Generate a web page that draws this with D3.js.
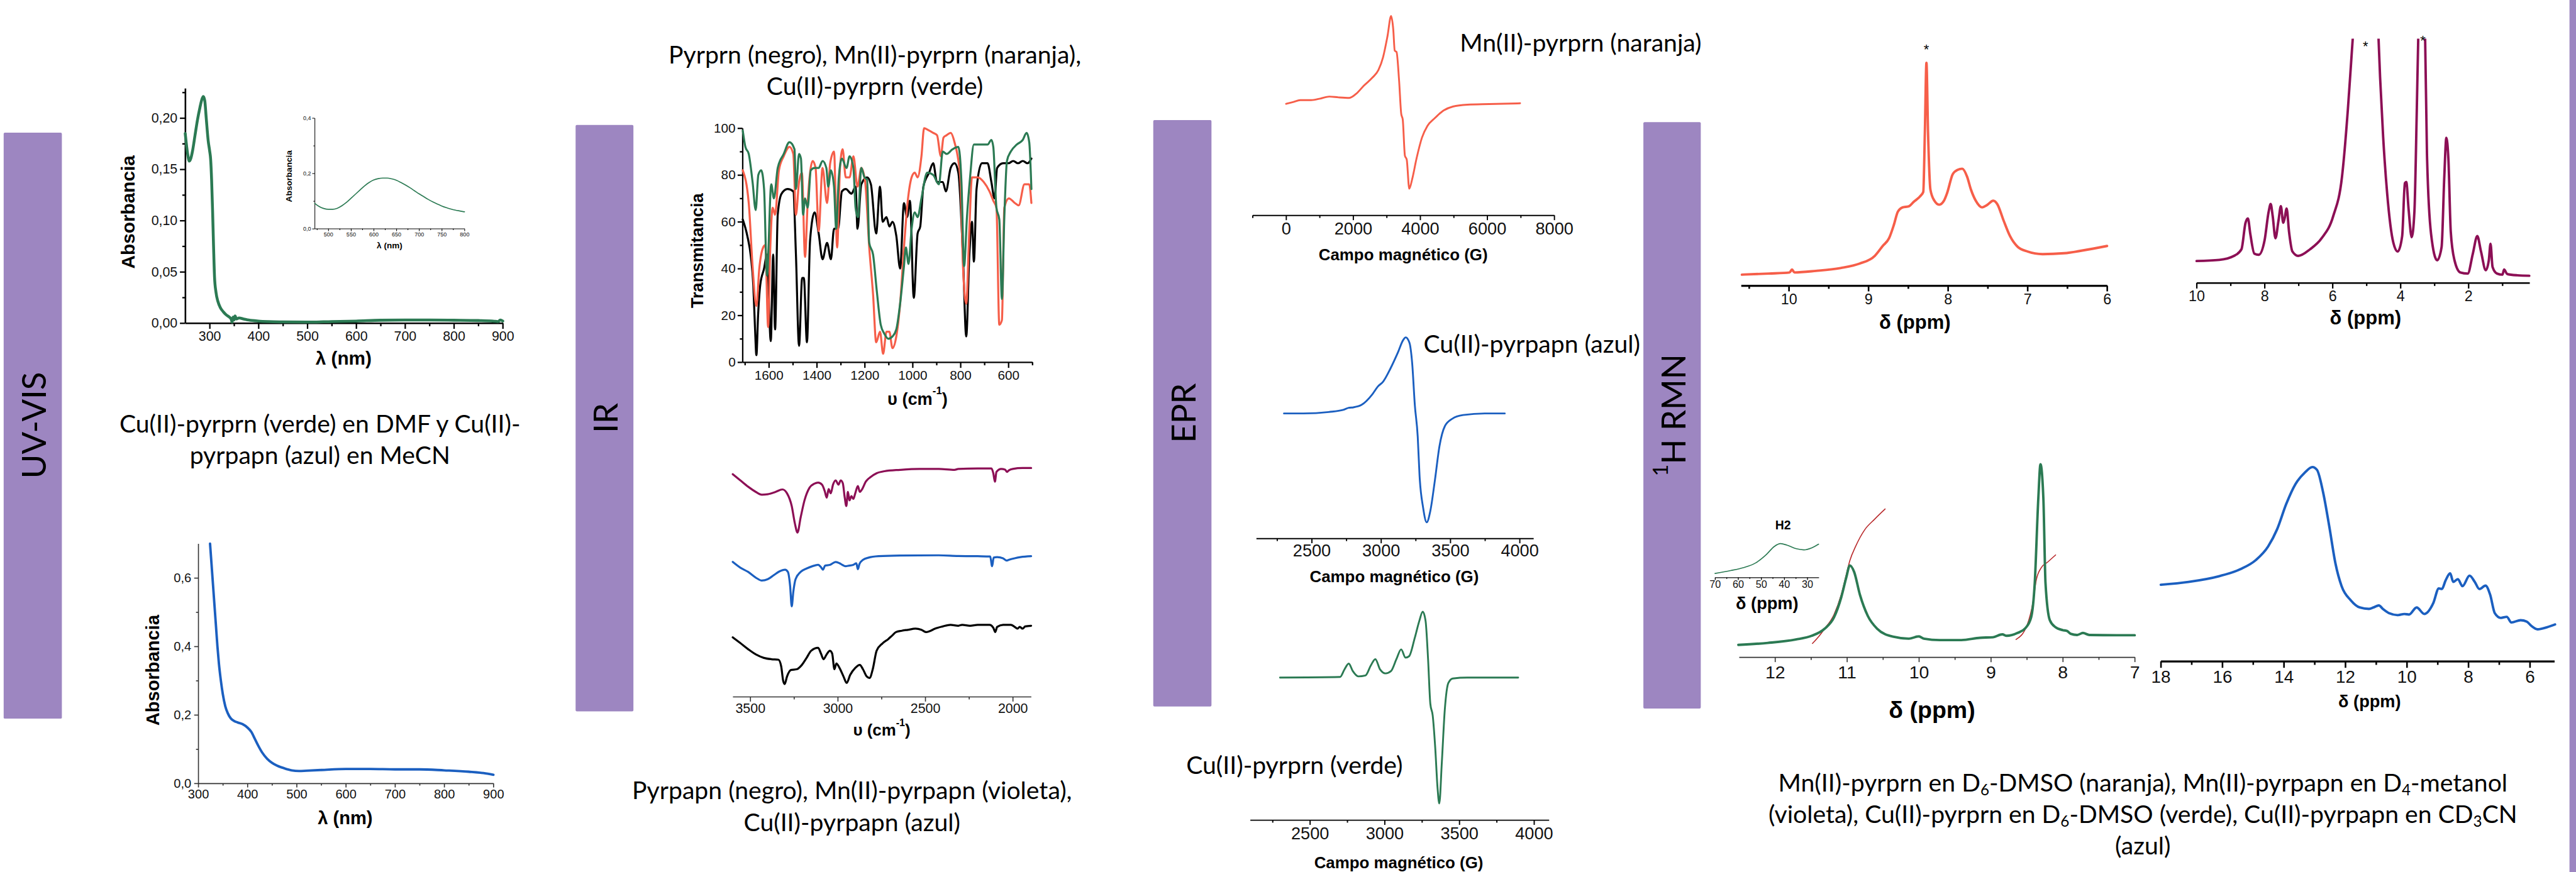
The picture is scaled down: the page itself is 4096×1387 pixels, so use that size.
<!DOCTYPE html>
<html>
<head>
<meta charset="utf-8">
<title>UV-VIS, IR, EPR, 1H RMN</title>
<script src="https://cdn.jsdelivr.net/npm/d3@7"></script>
<style>
  body { margin: 0; background: #fff; }
  svg { display: block; }
</style>
</head>
<body>
<script>
// ---- datos ----
// UV-VIS (nm, absorbancia)
var uvCuPrn = [[250,0.185],[253,0.172],[256,0.162],[258,0.158],[261,0.16],[265,0.168],[270,0.183],[275,0.198],[280,0.21],[284,0.218],[287,0.221],[290,0.217],[293,0.2],[297,0.178],[300,0.168],[302,0.16],[304,0.14],[306,0.11],[308,0.075],[310,0.045],[313,0.03],[317,0.021],[322,0.015],[328,0.011],[334,0.008],[340,0.006],[344,0.004],[346,0.001],[348,0.006],[350,0.003],[352,0.007],[355,0.004],[360,0.005],[370,0.004],[380,0.003],[400,0.002],[420,0.0015],[450,0.0012],[500,0.001],[550,0.0015],[600,0.002],[650,0.0028],[700,0.003],[750,0.003],[800,0.0028],[850,0.0025],[880,0.002],[890,0.0015],[895,0.003],[900,0.002]];
var uvCuPrnVis = [[470,0.092],[480,0.08],[490,0.073],[500,0.07],[510,0.07],[520,0.074],[530,0.083],[540,0.095],[550,0.11],[560,0.125],[570,0.14],[580,0.155],[590,0.167],[600,0.176],[610,0.181],[620,0.183],[630,0.183],[640,0.18],[650,0.175],[660,0.167],[670,0.158],[680,0.148],[690,0.137],[700,0.126],[710,0.116],[720,0.106],[730,0.097],[740,0.089],[750,0.082],[760,0.076],[770,0.071],[780,0.067],[790,0.064],[800,0.061]];
var uvCuPapn = [[324,0.70],[327,0.64],[330,0.58],[333,0.52],[336,0.46],[339,0.40],[342,0.35],[346,0.30],[350,0.26],[355,0.225],[360,0.205],[366,0.19],[372,0.183],[380,0.178],[390,0.173],[400,0.163],[408,0.15],[415,0.13],[422,0.11],[430,0.09],[440,0.072],[450,0.06],[460,0.052],[475,0.044],[490,0.038],[505,0.036],[520,0.037],[550,0.039],[600,0.042],[650,0.042],[700,0.041],[750,0.041],[800,0.038],[850,0.034],[880,0.03],[900,0.025]];

// IR 1710-500 cm-1 (cm-1, %T)
var irPrn = [[1709,61],[1690,54],[1675,45],[1665,33],[1658,15],[1652,3],[1645,20],[1636,33],[1620,40],[1608,46],[1592,9],[1582,46],[1574,14],[1563,63],[1547,72],[1522,74],[1498,73],[1487,46],[1474,7],[1461,36],[1454,36],[1441,8.5],[1428,52],[1409,64],[1392,55],[1376,44],[1357,51],[1341,44],[1328,57],[1311,57],[1295,73],[1279,74],[1255,72],[1238,75],[1230,57],[1214,76],[1190,79],[1174,76],[1152,55],[1136,75],[1125,60],[1109,62],[1097,58],[1084,60],[1068,54],[1052,40],[1036,68],[1023,62],[1011,69],[995,27.5],[979,55],[968,58],[955,75],[931,81],[914,85],[898,77],[874,77],[861,73],[841,83],[825,85],[809,81],[790,46],[776,11],[763,46],[752,60],[744,43],[733,74],[711,85],[687,85],[671,77],[658,70],[647,83],[622,85],[600,85],[580,86],[560,85],[540,86],[520,85],[504,87]];
var irMnPrn = [[1709,82],[1684,68],[1668,41],[1652,24],[1640,40],[1624,49],[1615,50],[1603,15],[1595,46],[1584,66],[1574,63],[1558,82],[1538,88],[1514,92],[1498,89],[1487,63],[1474,77],[1462,81],[1449,45],[1438,68],[1417,86],[1405,83],[1392,56],[1376,83],[1357,68],[1344,85],[1328,90],[1315,49],[1303,83],[1292,91],[1279,79],[1263,79],[1247,88],[1230,75],[1214,83],[1198,77],[1181,49],[1165,29],[1152,8.5],[1136,13],[1123,3.6],[1109,13],[1097,13],[1084,6],[1068,11],[1052,25],[1036,49],[1020,69],[1004,79],[991,81],[979,79],[963,88],[952,100],[931,99],[914,98],[898,97],[882,88],[871,96],[858,97],[841,98],[825,94],[801,79],[790,42],[776,25],[763,57],[752,79],[728,79],[703,77],[679,73],[663,69],[650,66],[638,16],[627,18],[617,66],[598,70],[573,68],[557,67],[533,76],[513,76],[504,68]];
var irCuPrn = [[1709,99],[1698,92],[1684,89],[1668,77],[1655,65],[1644,80],[1632,82],[1620,74],[1608,37],[1590,76],[1579,70],[1563,83],[1538,89],[1514,94],[1493,91],[1487,74],[1474,89],[1466,87],[1457,63],[1449,70],[1438,66],[1425,82],[1409,83],[1392,83],[1376,86],[1360,83],[1352,75],[1341,82],[1328,75],[1319,57],[1308,79],[1295,87],[1276,83],[1263,88],[1247,83],[1238,66],[1228,62],[1214,83],[1201,79],[1190,78],[1181,51],[1165,46],[1149,30],[1133,16],[1117,12],[1101,10],[1084,11],[1068,14],[1052,25],[1036,41],[1028,49],[1017,42],[1004,57],[991,64],[979,62],[963,70],[939,81],[914,80],[890,76],[874,90],[858,89],[833,91],[809,92],[796,77],[785,41],[773,62],[760,79],[744,93],[711,93],[687,93],[671,95],[663,92],[650,66],[638,61],[627,27],[617,62],[606,86],[590,90],[565,93],[540,95],[524,98],[513,94],[504,74]];

// IR 3600-1895 cm-1 (cm-1, u.a. desplazadas)
var irMnPapn = [[3600,95.5],[3557,92.8],[3512,90],[3468,87.7],[3434,86.5],[3400,86.7],[3356,87.7],[3316,88.8],[3290,87.1],[3263,81.5],[3245,73.9],[3230,69.9],[3212,76.5],[3190,84],[3161,89.6],[3134,91.3],[3112,91.8],[3090,90.9],[3074,88],[3063,85.2],[3052,89],[3040,87.1],[3027,90.9],[3012,92.8],[2996,90.9],[2983,92.8],[2971,91.5],[2960,85.2],[2951,81.5],[2942,87.7],[2933,84],[2922,85.9],[2911,84.6],[2900,87.1],[2885,90.3],[2874,87.7],[2860,89],[2840,92.2],[2811,94.3],[2778,95.9],[2733,96.8],[2644,97.4],[2533,97.8],[2422,97.8],[2333,97.4],[2311,97.8],[2200,98],[2122,98],[2111,95.9],[2102,92.2],[2093,96.5],[2066,97.8],[2044,97.5],[2033,96.5],[2022,97.2],[2000,97.8],[1944,98.2],[1895,98.2]];
var irCuPapn = [[3600,57],[3557,54.5],[3512,52.6],[3468,50.1],[3434,48.8],[3400,49.4],[3367,51.1],[3334,52.8],[3301,53.6],[3285,52.6],[3272,46.3],[3263,37.5],[3254,43.8],[3241,49.4],[3212,52.6],[3178,54.1],[3145,55.1],[3112,55.7],[3094,54.5],[3085,53.6],[3072,55.4],[3045,55.7],[3012,57],[2989,56.4],[2974,55.7],[2956,55.1],[2934,55.4],[2912,55.7],[2894,56.4],[2885,53.8],[2876,56.1],[2856,57.9],[2823,58.9],[2767,59.5],[2645,59.8],[2423,59.9],[2312,59.6],[2200,59.5],[2129,59.4],[2118,55.1],[2109,58.9],[2089,59.1],[2056,58.6],[2034,57.6],[2023,57.9],[1989,58.6],[1956,59.1],[1895,59.5]];
var irPapn = [[3600,23.9],[3557,21.4],[3512,18.7],[3468,16.4],[3423,14.9],[3379,14.3],[3339,14.1],[3323,11.1],[3312,4.9],[3303,3.4],[3290,6.7],[3267,9.6],[3234,9.9],[3205,11.8],[3178,14.9],[3152,18],[3112,19.3],[3096,16.8],[3081,14.3],[3065,16.2],[3045,18],[3032,16.8],[3019,9.9],[3008,12.4],[2990,10.5],[2967,6.7],[2949,3.9],[2929,7.4],[2900,10.5],[2874,11.8],[2856,9.9],[2834,6.7],[2818,6.1],[2800,9.9],[2778,18],[2745,21.2],[2712,23.1],[2689,24.7],[2667,26.2],[2634,26.8],[2600,27.2],[2556,27.7],[2522,27.2],[2496,26.2],[2478,26.5],[2445,27.7],[2400,28.7],[2356,29.4],[2311,29],[2289,29.4],[2244,29],[2200,29.4],[2133,29.4],[2111,28.1],[2100,26.2],[2089,28.5],[2055,29.4],[2011,29.4],[1989,28.5],[1973,27.7],[1960,28.5],[1944,27.7],[1929,28.7],[1895,29]];

// EPR (G, u.a.)
var eprMnPrn = [[0,-1],[206,1],[423,3.2],[748,3.2],[1019,5],[1290,7.3],[1561,6.4],[1886,5.8],[2103,10.9],[2320,19.8],[2569,28.7],[2754,37.6],[2894,52.4],[3024,76.1],[3133,99.3],[3198,83.6],[3241,59.8],[3295,58.3],[3371,25.7],[3436,-12.8],[3480,-18.8],[3545,-60.3],[3599,-64.7],[3675,-98],[3762,-87],[3892,-63.4],[4054,-39.6],[4217,-26.2],[4434,-17.4],[4705,-8.5],[4976,-4.1],[5409,-2],[6060,-1.3],[6981,-0.4]];
var eprCuPapn = [[2300,0],[2440,0],[2623,1.9],[2728,4.7],[2767,7.4],[2800,8],[2859,11.2],[2937,25],[2977,35.3],[3016,42],[3068,59],[3121,79.7],[3160,96.5],[3178,100],[3205,93],[3225,65.8],[3244,11.2],[3265,-30.5],[3278,-81.3],[3304,-124],[3330,-143],[3356,-128],[3388,-89],[3422,-42.8],[3461,-16.6],[3514,-7],[3592,-2.1],[3749,0],[3893,0]];
var eprCuPrn = [[2300,0],[2702,0.9],[2731,12.2],[2760,21.2],[2787,9.9],[2824,1.8],[2872,3.2],[2909,18.9],[2938,27.9],[2970,12.2],[3006,6.3],[3043,9.9],[3079,27.9],[3111,42.8],[3140,30.2],[3164,32.4],[3201,59.4],[3233,86.4],[3255,100],[3274,86.4],[3291,27.9],[3306,-39.6],[3322,-57.6],[3339,-107],[3354,-166],[3366,-191],[3383,-129],[3403,-48.6],[3427,-8.1],[3456,-1.4],[3553,0],[3894,0]];

// 1H RMN (ppm, u.a.)
var nmrMnPrn = [[10.59,5.5],[10.25,6],[9.99,6.5],[9.96,7.8],[9.93,6.5],[9.66,7.2],[9.35,8.5],[9.11,10.5],[8.92,14],[8.82,18.5],[8.74,22],[8.68,28],[8.63,34],[8.57,36],[8.49,36.5],[8.43,38.5],[8.35,41],[8.31,43],[8.29,70],[8.27,101.5],[8.25,70],[8.22,44],[8.17,39],[8.11,37.2],[8.05,39],[8.01,42.5],[7.94,51],[7.88,53],[7.82,53.5],[7.76,50],[7.71,44],[7.65,39],[7.57,36],[7.51,37],[7.43,39],[7.38,37.5],[7.30,30],[7.22,23],[7.12,18],[7.00,16],[6.81,14.8],[6.54,15.2],[6.30,16.5],[6.00,18.5]];
var nmrMnPapn = [[10,11.7],[9.33,12.2],[8.9,14],[8.68,17],[8.56,29],[8.49,31],[8.42,24],[8.3,15],[8.17,14.5],[8.0,21],[7.88,34],[7.82,37.5],[7.76,32],[7.68,22],[7.59,30],[7.52,36.5],[7.45,29],[7.41,31],[7.35,35.5],[7.28,25],[7.18,16],[7.01,14],[6.66,17],[6.32,22],[5.98,32],[5.72,50],[5.55,80],[5.46,100],[5.38,118],[5.2,150],[5.0,170],[4.8,150],[4.66,118],[4.6,95],[4.51,68],[4.39,42],[4.21,20],[4.08,16],[3.95,23],[3.87,47],[3.83,47.5],[3.76,35],[3.67,22.5],[3.59,34],[3.52,80],[3.47,118],[3.38,150],[3.28,118],[3.22,60],[3.10,24],[2.92,12],[2.79,18],[2.71,50],[2.65,67.5],[2.59,58],[2.52,25],[2.41,12],[2.24,6.5],[2.02,6],[1.87,15],[1.74,23],[1.63,16],[1.49,7.5],[1.40,12],[1.35,19.5],[1.29,9],[1.16,6],[1.0,5.5],[0.95,7.8],[0.86,5.8],[0.56,5.2],[0.21,5]];
var nmrCuPrn = [[12.51,6.6],[12.1,8],[11.71,10.4],[11.49,13],[11.31,18],[11.18,26],[11.08,40],[11.01,54],[10.96,62.6],[10.9,58],[10.82,42],[10.71,27],[10.58,18],[10.36,12.4],[10.14,11],[10.0,12.6],[9.93,11],[9.71,10],[9.41,10],[9.15,11.6],[8.97,12],[8.84,14],[8.78,13],[8.63,15],[8.52,18.4],[8.44,26],[8.39,50],[8.34,110],[8.31,134],[8.27,110],[8.24,50],[8.18,24],[8.1,19],[8.0,17],[7.94,16.4],[7.89,14.4],[7.8,13.6],[7.72,15],[7.63,13.6],[7.25,13.4],[7.0,13.4]];
var nmrCuPrnInt1 = [[11.48,7.6],[11.40,12],[11.31,18],[11.18,28],[11.08,42],[11.01,56],[10.96,66],[10.88,76],[10.75,88],[10.62,95],[10.47,102.4]];
var nmrCuPrnInt2 = [[8.65,10.4],[8.50,20],[8.41,38],[8.37,52],[8.30,61],[8.21,65],[8.10,70]];
var nmrCuPrnH2 = [[70,15],[63.2,25],[57.8,35],[52.4,52],[47.7,82],[44.3,110],[41.6,120],[38.9,115],[34.8,102],[31.5,98],[28.1,105],[25.1,118]];
var nmrCuPapn = [[18,49],[17.1,51],[16.11,55],[15.41,60],[14.91,66.4],[14.51,76],[14.22,88],[13.92,106],[13.62,120],[13.32,128],[13.07,132],[12.92,130],[12.72,114],[12.52,90],[12.32,64],[12.12,48],[11.82,38],[11.53,33],[11.23,32],[11.08,33],[10.91,34.4],[10.78,32],[10.58,29],[10.28,27.6],[10.08,28.4],[9.93,28],[9.68,33],[9.43,28.4],[9.14,36],[8.96,46.4],[8.86,46],[8.74,52],[8.59,57],[8.49,51],[8.34,53],[8.19,48],[7.96,55.4],[7.79,51],[7.64,46],[7.44,48.4],[7.29,42],[7.14,29],[6.94,25.6],[6.75,26.4],[6.6,22.4],[6.3,24],[6.1,23],[5.95,20],[5.75,17.6],[5.45,19],[5.18,21]];

// ---- lienzo ----
var W = 4096, H = 1387;
var k = W / 6328;   // se dibuja en coordenadas de la figura original
var AX = "'Liberation Sans', Arial, sans-serif";
var CAP = "Lato, 'Noto Sans', sans-serif";
var cGreen = "#2b7a53", cOrange = "#f65e49", cBlue = "#1b5fc0", cViolet = "#8c0f55", cRed = "#b8282a", cBar = "#9d86c1";

var svg = d3.select("body").append("svg").attr("width", W).attr("height", H);
var root = svg.append("g").attr("transform", "scale(" + k + ")");

// tamaño de los rótulos (Calibri en el original): ajustado por ancho
var probe = root.append("text").attr("font-family", CAP).attr("font-size", 100).text("Mn(II)-pyrprn (naranja)");
var capFs = 100 * 594 / probe.node().getComputedTextLength();
probe.text("UV-VIS");
var barFs = 100 * 262 / probe.node().getComputedTextLength();
probe.remove();

function comma(f) { return function(d) { return d3.format(f)(d).replace(".", ","); }; }

function axis(o) {
  var left = o.orient == "left";
  var mk = left ? d3.axisLeft : d3.axisBottom;
  var tr = left ? "translate(" + o.at + ",0)" : "translate(0," + o.at + ")";
  var col = o.color || "#000";
  var g = root.append("g").attr("transform", tr)
    .call(mk(o.scale).tickValues(o.major).tickSize(o.tick).tickSizeOuter(0)
      .tickPadding(o.pad).tickFormat(o.fmt || d3.format("d")));
  g.attr("font-family", AX).attr("font-size", o.fs);
  g.select(".domain").attr("stroke", col).attr("stroke-width", o.sw);
  g.selectAll(".tick line").attr("stroke", col).attr("stroke-width", o.tsw || o.sw);
  g.selectAll(".tick text").attr("fill", "#111");
  if (o.minor) {
    var m = root.append("g").attr("transform", tr)
      .call(mk(o.scale).tickValues(o.minor).tickSize(o.tick * 0.55).tickSizeOuter(0).tickFormat(""));
    m.select(".domain").remove();
    m.selectAll(".tick line").attr("stroke", col).attr("stroke-width", o.tsw || o.sw);
  }
}

function trace(data, x, y, color, sw, clip) {
  var pts = data.slice().sort(function(a, b) { return x(a[0]) - x(b[0]); });
  var p = root.append("path").datum(pts)
    .attr("d", d3.line().x(function(d) { return x(d[0]); }).y(function(d) { return y(d[1]); }).curve(d3.curveMonotoneX))
    .attr("fill", "none").attr("stroke", color).attr("stroke-width", sw)
    .attr("stroke-linejoin", "round").attr("stroke-linecap", "round");
  if (clip) p.attr("clip-path", "url(#" + clip + ")");
}

function txt(x, y, s, o) {
  o = o || {};
  var t = root.append("text").attr("x", x).attr("y", y)
    .attr("text-anchor", o.anchor || "middle").attr("dominant-baseline", "central")
    .attr("font-family", o.family || AX).attr("font-size", o.fs || 40)
    .attr("font-weight", o.bold ? "bold" : "normal").attr("fill", "#000");
  if (o.rot) t.attr("transform", "rotate(-90," + x + "," + y + ")");
  if (typeof s == "string") { t.text(s); return t; }
  // partes con sub/superíndice: [texto, desplazamiento]
  var fs = o.fs || 40, prev = 0;
  s.forEach(function(part) {
    var off = part[1] || 0;
    var sp = t.append("tspan").attr("dy", (off - prev) * fs).text(part[0]);
    if (off) sp.attr("font-size", fs * 0.62);
    prev = off;
  });
  return t;
}

// ---- barras laterales ----
var bars = [
  {x0: 9, x1: 152, y0: 326, y1: 1766, cy: 1045, label: [["UV-VIS"]]},
  {x0: 1414, x1: 1556, y0: 307, y1: 1748, cy: 1027, label: [["IR"]]},
  {x0: 2833, x1: 2976, y0: 295, y1: 1736, cy: 1015, label: [["EPR"]]},
  {x0: 4037, x1: 4178, y0: 300, y1: 1741, cy: 1020, label: [["1", -0.38], ["H RMN", 0]]}
];
bars.forEach(function(b) {
  root.append("rect").attr("x", b.x0).attr("y", b.y0).attr("width", b.x1 - b.x0).attr("height", b.y1 - b.y0)
    .attr("rx", 3).attr("fill", cBar);
  txt((b.x0 + b.x1) / 2, b.cy, b.label, {family: CAP, fs: barFs, rot: true});
});
root.append("rect").attr("x", 6312).attr("y", 0).attr("width", 16).attr("height", 2143).attr("fill", cBar);

// ---- UV-VIS: Cu(II)-pyrprn ----
var ux = d3.scaleLinear().domain([250, 900]).range([455, 1235]);
var uy = d3.scaleLinear().domain([0, 0.229]).range([794, 217]);
axis({orient: "left", scale: uy, at: 455, major: [0, .05, .1, .15, .2], minor: [.025, .075, .125, .175, .225], tick: 13, pad: 6, fs: 33, sw: 4, tsw: 3.5, fmt: comma(".2f")});
axis({orient: "bottom", scale: ux, at: 794, major: d3.range(300, 901, 100), minor: d3.range(350, 900, 100), tick: 14, pad: 6, fs: 33, sw: 4, tsw: 3.5});
trace(uvCuPrn, ux, uy, cGreen, 7);
txt(315, 521, "Absorbancia", {fs: 46, bold: true, rot: true});
txt(844, 880, "λ (nm)", {fs: 46, bold: true});

var ix = d3.scaleLinear().domain([470, 800]).range([773, 1141]);
var iy = d3.scaleLinear().domain([0, 0.4]).range([562, 290]);
axis({orient: "left", scale: iy, at: 773, major: [0, .2, .4], minor: [.1, .3], tick: 6, pad: 3, fs: 14, sw: 1.6, fmt: comma(".1f")});
axis({orient: "bottom", scale: ix, at: 562, major: d3.range(500, 801, 50), minor: d3.range(475, 800, 50), tick: 6, pad: 3, fs: 14, sw: 1.6});
trace(uvCuPrnVis, ix, iy, cGreen, 2.6);
txt(710, 433, "Absorbancia", {fs: 21, bold: true, rot: true});
txt(957, 603, "λ (nm)", {fs: 21, bold: true});

txt(786, 1039, "Cu(II)-pyrprn (verde) en DMF y Cu(II)-", {family: CAP, fs: capFs});
txt(786, 1116, "pyrpapn (azul) en MeCN", {family: CAP, fs: capFs});

// ---- UV-VIS: Cu(II)-pyrpapn ----
var bx = d3.scaleLinear().domain([300, 900]).range([487, 1212]);
var by = d3.scaleLinear().domain([0, 0.7]).range([1925, 1336]);
axis({orient: "left", scale: by, at: 487, major: [0, .2, .4, .6], minor: [.1, .3, .5], tick: 10, pad: 7, fs: 31, sw: 2.5, color: "#333", fmt: comma(".1f")});
axis({orient: "bottom", scale: bx, at: 1925, major: d3.range(300, 901, 100), minor: d3.range(350, 900, 100), tick: 10, pad: 5, fs: 31, sw: 2.5, color: "#333"});
trace(uvCuPapn, bx, by, cBlue, 6);
txt(375, 1647, "Absorbancia", {fs: 45, bold: true, rot: true});
txt(848, 2010, "λ (nm)", {fs: 45, bold: true});

// ---- IR: pyrprn ----
var rx = d3.scaleLinear().domain([1710, 500]).range([1824, 2536]);
var ry = d3.scaleLinear().domain([0, 100]).range([890, 315]);
axis({orient: "left", scale: ry, at: 1824, major: d3.range(0, 101, 20), minor: d3.range(10, 100, 20), tick: 12, pad: 5, fs: 32, sw: 3.5});
axis({orient: "bottom", scale: rx, at: 890, major: d3.range(1600, 599, -200), minor: d3.range(1700, 499, -200), tick: 14, pad: 6, fs: 32, sw: 3.5});
trace(irPrn, rx, ry, "#000", 5);
trace(irMnPrn, rx, ry, cOrange, 5);
trace(irCuPrn, rx, ry, cGreen, 5);
txt(1712, 616, "Transmitancia", {fs: 42, bold: true, rot: true});
txt(2254, 979, [["υ (cm", 0], ["-1", -0.45], [")", 0]], {fs: 42, bold: true});
txt(2149, 132, "Pyrprn (negro), Mn(II)-pyrprn (naranja),", {family: CAP, fs: capFs});
txt(2149, 210, "Cu(II)-pyrprn (verde)", {family: CAP, fs: capFs});

// ---- IR: pyrpapn ----
var qx = d3.scaleLinear().domain([3600, 1895]).range([1800, 2533]);
var qy = d3.scaleLinear().domain([0, 100]).range([1700, 1140]);
axis({orient: "bottom", scale: qx, at: 1712, major: [3500, 3000, 2500, 2000], minor: [3250, 2750, 2250], tick: 12, pad: 4, fs: 33, sw: 2.5, color: "#333"});
trace(irMnPapn, qx, qy, cViolet, 5);
trace(irCuPapn, qx, qy, cBlue, 5);
trace(irPapn, qx, qy, "#000", 5);
txt(2166, 1793, [["υ (cm", 0], ["-1", -0.45], [")", 0]], {fs: 40, bold: true});
txt(2093, 1940, "Pyrpapn (negro), Mn(II)-pyrpapn (violeta),", {family: CAP, fs: capFs});
txt(2093, 2018, "Cu(II)-pyrpapn (azul)", {family: CAP, fs: capFs});

// ---- EPR ----
var ex1 = d3.scaleLinear().domain([-1000, 8000]).range([3077, 3818]);
var ey1 = d3.scaleLinear().domain([0, 100]).range([253, 38]);
axis({orient: "bottom", scale: ex1, at: 529, major: d3.range(0, 8001, 2000), minor: d3.range(-1000, 8000, 2000), tick: 12, pad: 6, fs: 42, sw: 3});
trace(eprMnPrn, ex1, ey1, cOrange, 4.5);
txt(3447, 625, "Campo magnético (G)", {fs: 40, bold: true});
txt(3586, 102, "Mn(II)-pyrprn (naranja)", {family: CAP, fs: capFs, anchor: "start"});

var ex2 = d3.scaleLinear().domain([2100, 4100]).range([3086, 3767]);
var ey2 = d3.scaleLinear().domain([0, 100]).range([1016, 829]);
axis({orient: "bottom", scale: ex2, at: 1323, major: [2500, 3000, 3500, 4000], minor: [2250, 2750, 3250, 3750], tick: 12, pad: 3, fs: 42, sw: 3});
trace(eprCuPapn, ex2, ey2, cBlue, 4.5);
txt(3425, 1417, "Campo magnético (G)", {fs: 40, bold: true});
txt(3497, 842, "Cu(II)-pyrpapn (azul)", {family: CAP, fs: capFs, anchor: "start"});

var ex3 = d3.scaleLinear().domain([2100, 4100]).range([3071, 3805]);
var ey3 = d3.scaleLinear().domain([0, 100]).range([1665, 1503]);
axis({orient: "bottom", scale: ex3, at: 2015, major: [2500, 3000, 3500, 4000], minor: [2250, 2750, 3250, 3750], tick: 12, pad: 5, fs: 42, sw: 3});
trace(eprCuPrn, ex3, ey3, cGreen, 4.5);
txt(3436, 2119, "Campo magnético (G)", {fs: 40, bold: true});
txt(2914, 1878, "Cu(II)-pyrprn (verde)", {family: CAP, fs: capFs, anchor: "start"});

// ---- 1H RMN ----
var nx1 = d3.scaleLinear().domain([10.6, 6]).range([4277, 5176]);
var ny1 = d3.scaleLinear().domain([0, 100]).range([704.7, 162.6]);
axis({orient: "bottom", scale: nx1, at: 702, major: [10, 9, 8, 7, 6], minor: [10.5, 9.5, 8.5, 7.5, 6.5], tick: 14, pad: 6, fs: 36, sw: 5, tsw: 4});
trace(nmrMnPrn, nx1, ny1, cOrange, 6);
txt(4732, 122, "*", {fs: 34});
txt(4704, 791, "δ (ppm)", {fs: 48, bold: true});

var nx2 = d3.scaleLinear().domain([10, 0.2]).range([5396, 6214]);
var ny2 = d3.scaleLinear().domain([0, 100]).range([704.7, 162.6]);
root.append("clipPath").attr("id", "clipV").append("rect").attr("x", 5390).attr("y", 95).attr("width", 830).attr("height", 620);
axis({orient: "bottom", scale: nx2, at: 695, major: [10, 8, 6, 4, 2], minor: [9, 7, 5, 3, 1], tick: 14, pad: 6, fs: 36, sw: 4, tsw: 3.5});
trace(nmrMnPapn, nx2, ny2, cViolet, 6, "clipV");
txt(5811, 113, "*", {fs: 34});
txt(5952, 100, "*", {fs: 34});
txt(5811, 781, "δ (ppm)", {fs: 48, bold: true});

var nx3 = d3.scaleLinear().domain([12.5, 7]).range([4272, 5244]);
var ny3 = d3.scaleLinear().domain([0, 100]).range([1607.7, 1259.2]);
axis({orient: "bottom", scale: nx3, at: 1615, major: [12, 11, 10, 9, 8, 7], minor: [11.5, 10.5, 9.5, 8.5, 7.5], tick: 12, pad: 8, fs: 44, sw: 2.5, color: "#333"});
trace(nmrCuPrnInt1, nx3, ny3, cRed, 2.5);
trace(nmrCuPrnInt2, nx3, ny3, cRed, 2.5);
trace(nmrCuPrn, nx3, ny3, cGreen, 6);
txt(4746, 1744, "δ (ppm)", {fs: 58, bold: true});

var hx = d3.scaleLinear().domain([70, 25]).range([4213, 4468]);
var hy = d3.scaleLinear().domain([0, 100]).range([1419.5, 1349.8]);
axis({orient: "bottom", scale: hx, at: 1419, major: [70, 60, 50, 40, 30], minor: [65, 55, 45, 35], tick: 6, pad: 2, fs: 25, sw: 2});
trace(nmrCuPrnH2, hx, hy, cGreen, 2.6);
txt(4380, 1290, "H2", {fs: 30, bold: true});
txt(4341, 1482, "δ (ppm)", {fs: 42, bold: true});

var nx4 = d3.scaleLinear().domain([18, 5.2]).range([5308, 6275]);
var ny4 = d3.scaleLinear().domain([0, 100]).range([1607.7, 1259.2]);
axis({orient: "bottom", scale: nx4, at: 1625, major: d3.range(18, 5, -2), minor: d3.range(17, 5, -2), tick: 16, pad: 6, fs: 43, sw: 5, tsw: 4});
trace(nmrCuPapn, nx4, ny4, cBlue, 6);
txt(5821, 1723, "δ (ppm)", {fs: 42, bold: true});

txt(5264, 1921, [["Mn(II)-pyrprn en D", 0], ["6", 0.3], ["-DMSO (naranja), Mn(II)-pyrpapn en D", 0], ["4", 0.3], ["-metanol", 0]], {family: CAP, fs: capFs});
txt(5264, 1998, [["(violeta), Cu(II)-pyrprn en D", 0], ["6", 0.3], ["-DMSO (verde), Cu(II)-pyrpapn en CD", 0], ["3", 0.3], ["CN", 0]], {family: CAP, fs: capFs});
txt(5264, 2075, "(azul)", {family: CAP, fs: capFs});
</script>
</body>
</html>
